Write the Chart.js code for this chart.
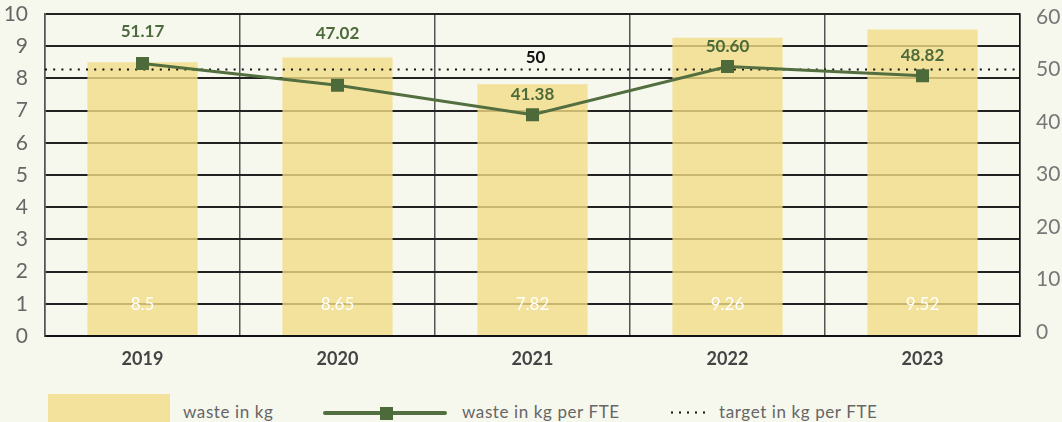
<!DOCTYPE html>
<html>
<head>
<meta charset="utf-8">
<script src="https://cdn.jsdelivr.net/npm/chart.js@4.4.1/dist/chart.umd.min.js"></script>
<style>
    html, body { margin: 0; padding: 0; background: #f6f8ee; overflow: hidden; }
    #wrap { position: relative; width: 1062px; height: 422px; }
    #grafico { position: absolute; left: 0; top: 0; }
    .lg { position: absolute; font-family: Lato, 'Noto Sans', sans-serif; font-size: 17px; letter-spacing: 0.6px; color: #666; line-height: 20px; white-space: nowrap; }
    .sw { position: absolute; }
</style>
</head>
<body>
<div id="wrap">
    <canvas id="grafico" width="1062" height="380"></canvas>
    <!-- leyenda -->
    <div class="sw" style="left:48px;top:394px;width:122px;height:34px;background:#f2e29b;"></div>
    <div class="lg" style="left:183px;top:402px;">waste in kg</div>
    <div class="sw" style="left:323px;top:411px;width:124px;height:4px;border-radius:2px;background:#536e3f;"></div>
    <div class="sw" style="left:380px;top:407px;width:13px;height:13px;background:#4d6a3a;"></div>
    <div class="lg" style="left:462px;top:402px;">waste in kg per FTE</div>
    <div class="sw" style="left:668px;top:411px;width:40px;height:3px;background-image:radial-gradient(circle, #222 1px, transparent 1.3px);background-size:8px 3px;"></div>
    <div class="lg" style="left:719px;top:402px;">target in kg per FTE</div>
</div>
<script>
// datos
const years = ['2019', '2020', '2021', '2022', '2023'];
const wasteKg = [8.5, 8.65, 7.82, 9.26, 9.52];
const wastePerFte = [51.17, 47.02, 41.38, 50.60, 48.82];
const targetPerFte = 50;
const leftTicks = [0, 1, 2, 3, 4, 5, 6, 7, 8, 9, 10];
const rightTicks = [0, 10, 20, 30, 40, 50, 60];

// separación de las etiquetas de la línea sobre cada punto (px)
const lineLabelLift = [32, 52, 20, 20, 20];

const FONT = "Lato, 'Noto Sans', sans-serif";
const GREEN = '#4d6a3a';

const etiquetas = {
    id: 'etiquetas',
    afterDatasetDraw(chart, args) {
        if (args.meta.type !== 'bar') return;
        // línea de objetivo, por encima de las barras y debajo de la serie
        const { ctx, chartArea, scales } = chart;
        const y = scales.y1.getPixelForValue(targetPerFte);
        ctx.save();
        ctx.setLineDash([2, 6.2]);
        ctx.lineWidth = 2;
        ctx.strokeStyle = '#111';
        ctx.beginPath();
        ctx.moveTo(chartArea.left, y);
        ctx.lineTo(chartArea.right, y);
        ctx.stroke();
        ctx.restore();
    },
    afterDatasetsDraw(chart) {
        const { ctx, scales } = chart;
        ctx.save();
        ctx.textAlign = 'center';
        ctx.textBaseline = 'middle';

        // valores de las barras
        const barMeta = chart.getDatasetMeta(0);
        ctx.font = `17px ${FONT}`;
        ctx.fillStyle = '#ffffff';
        barMeta.data.forEach((bar, i) => {
            ctx.fillText(String(wasteKg[i]), bar.x, bar.base - 30);
        });

        // valores de la línea
        const lineMeta = chart.getDatasetMeta(1);
        ctx.font = `bold 17px ${FONT}`;
        ctx.fillStyle = GREEN;
        lineMeta.data.forEach((pt, i) => {
            ctx.fillText(wastePerFte[i].toFixed(2), pt.x, pt.y - lineLabelLift[i]);
        });

        // etiqueta del objetivo
        const yT = scales.y1.getPixelForValue(targetPerFte);
        ctx.font = `bold 17px ${FONT}`;
        ctx.fillStyle = '#111';
        ctx.fillText(String(targetPerFte), scales.x.getPixelForValue(2) + 3, yT - 12);
        ctx.restore();
    }
};

// quitar el margen extra que Chart.js reserva para las etiquetas de los ejes
function sinRelleno(s) {
    s.paddingTop = 0;
    s.paddingBottom = 0;
    s.paddingLeft = 0;
    s.paddingRight = 0;
}

const ctx = document.getElementById('grafico').getContext('2d');
new Chart(ctx, {
    type: 'bar',
    data: {
        labels: years,
        datasets: [
            {
                label: 'waste in kg',
                data: wasteKg,
                yAxisID: 'y',
                order: 1,
                backgroundColor: 'rgba(242, 220, 134, 0.8)',
                borderWidth: 0,
                barPercentage: 0.565,
                categoryPercentage: 1
            },
            {
                type: 'line',
                label: 'waste in kg per FTE',
                data: wastePerFte,
                yAxisID: 'y1',
                order: 0,
                borderColor: '#536e3f',
                borderWidth: 3,
                tension: 0,
                pointStyle: 'rect',
                pointRadius: 9.2,
                pointBackgroundColor: GREEN,
                pointBorderColor: GREEN,
                pointBorderWidth: 0
            }
        ]
    },
    options: {
        responsive: false,
        animation: false,
        layout: { padding: { top: 14, left: 0, right: 0, bottom: 0 } },
        plugins: {
            legend: { display: false },
            tooltip: { enabled: false }
        },
        scales: {
            x: {
                offset: true,
                grid: { offset: true, color: '#555', lineWidth: 1.5, drawTicks: false },
                border: { color: '#111', width: 2 },
                ticks: { color: '#444', padding: 12, font: { family: FONT, size: 18, weight: 'bold' } },
                afterFit(s) { s.height = 44; sinRelleno(s); }
            },
            y: {
                position: 'left',
                min: 0,
                max: 10,
                afterBuildTicks(s) { s.ticks = leftTicks.map(v => ({ value: v })); },
                grid: { color: '#222', lineWidth: 2, drawTicks: false },
                border: { color: '#555', width: 1.5 },
                ticks: { color: '#666', padding: 17, font: { family: FONT, size: 21 } },
                afterFit(s) { s.width = 45; sinRelleno(s); }
            },
            y1: {
                position: 'right',
                min: -0.8,
                max: 60.6,
                afterBuildTicks(s) { s.ticks = rightTicks.map(v => ({ value: v })); },
                grid: { display: false, drawTicks: false },
                border: { color: '#111', width: 1.5 },
                ticks: { color: '#777', padding: 16, font: { family: FONT, size: 21 } },
                afterFit(s) { s.width = 42; sinRelleno(s); }
            }
        }
    },
    plugins: [etiquetas]
});
</script>
</body>
</html>
